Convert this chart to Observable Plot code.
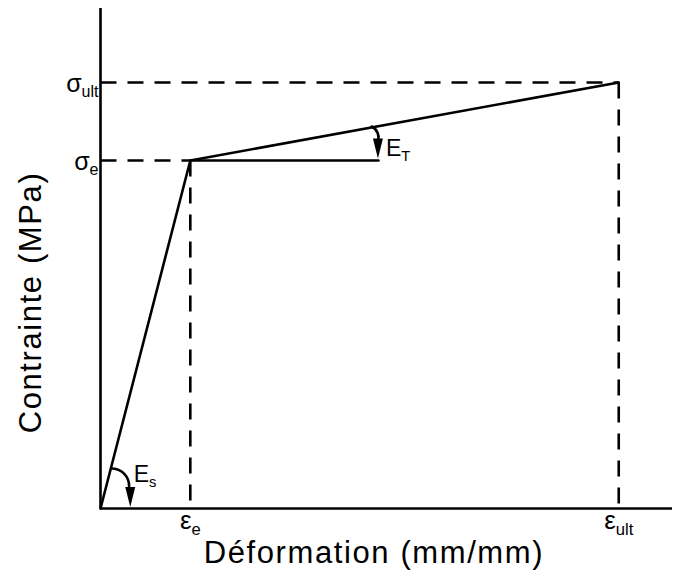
<!DOCTYPE html>
<html><head><meta charset="utf-8">
<script src="https://cdn.jsdelivr.net/npm/d3@7"></script>
<script src="https://cdn.jsdelivr.net/npm/@observablehq/plot@0.6"></script>
<style>body{margin:0;background:#fff;} svg{display:block;background:#fff}</style>
</head><body><div id="chart"></div>
<script>
// Stress-strain bilinear curve (arbitrary units, 0..100)
const curveStrain = [0, 15.7, 90.6];
const curveStress = [0, 69.6, 85.2];
// tick labels
const strainTicks = [15.7, 90.6];
const strainTickLabels = ["ε_e", "ε_ult"];
const stressTicks = [69.6, 85.2];
const stressTickLabels = ["σ_e", "σ_ult"];
// horizontal reference segment for the tangent modulus
const tangentRefStrain = [15.7, 48.6];
const tangentRefStress = [69.6, 69.6];
// modulus annotation arcs: [x1, y1, x2, y2]
const arcEs = [2.1, 8.0, 5.0, 4.4];
const arcEt = [47.4, 76.4, 48.4, 73.2];
// arrow head tips
const headEs = [5.2, 0.3];
const headEt = [48.5, 70.0];
const modulusLabels = ["E_s", "E_T"];
const modulusLabelX = [5.8, 49.9];
const modulusLabelY = [5.4, 70.6];
// axis titles and their placement
const yTitle = "Contrainte (MPa)";
const xTitle = "Déformation (mm/mm)";
const yTitlePos = [-12.2, 41.2];
const xTitlePos = [47.8, -9.0];

const curve = curveStrain.map((x, i) => ({x, y: curveStress[i]}));
const ink = "#000";
const dash = "16,11";
const sw = 2.6;

const headShape = {
  draw(ctx, l, r) {
    ctx.moveTo(-r, 0);
    ctx.lineTo(0, -l);
    ctx.lineTo(r, 0);
    ctx.closePath();
  }
};

const chart = Plot.plot({
  width: 682,
  height: 576,
  marginLeft: 100,
  marginRight: 10,
  marginTop: 8,
  marginBottom: 68,
  style: {fontFamily: "'Liberation Sans', Arial, sans-serif", background: "#fff", overflow: "visible"},
  x: {domain: [0, 100], axis: null},
  y: {domain: [0, 100], axis: null},
  marks: [
    // dashed guides
    Plot.link(strainTicks, {x1: d => d, x2: d => d, y1: (d, i) => stressTicks[i], y2: 0,
      stroke: ink, strokeWidth: sw, strokeDasharray: dash}),
    Plot.link(stressTicks, {x1: 0, x2: (d, i) => strainTicks[i], y1: d => d, y2: d => d,
      stroke: ink, strokeWidth: sw, strokeDasharray: dash}),
    // axes
    Plot.ruleX([0], {y1: 0, y2: 100, stroke: ink, strokeWidth: sw}),
    Plot.ruleY([0], {x1: 0, x2: 100, stroke: ink, strokeWidth: sw}),
    // curve
    Plot.line(curve, {x: "x", y: "y", stroke: ink, strokeWidth: sw}),
    Plot.line(tangentRefStrain.map((x, i) => ({x, y: tangentRefStress[i]})), {x: "x", y: "y", stroke: ink, strokeWidth: sw}),
    // arcs
    Plot.arrow([arcEs, arcEt], {x1: d => d[0], y1: d => d[1], x2: d => d[2], y2: d => d[3],
      bend: 45, headLength: 0, stroke: ink, strokeWidth: sw}),
    Plot.vector([headEs, headEt], {x: d => d[0], y: d => d[1], length: 20, rotate: 180, anchor: "end",
      shape: headShape, r: 5, fill: ink, stroke: "none"}),
    // modulus labels
    Plot.text(modulusLabels, {x: (d, i) => modulusLabelX[i], y: (d, i) => modulusLabelY[i], text: d => d,
      textAnchor: "start", lineAnchor: "bottom", fontSize: 23, fill: ink}),
    // tick labels
    Plot.text(stressTickLabels, {x: 0, y: (d, i) => stressTicks[i], text: d => d, textAnchor: "end",
      lineAnchor: "middle", dx: -2, dy: 1, fontSize: 25, fill: ink}),
    Plot.text(strainTickLabels, {x: (d, i) => strainTicks[i], y: 0, text: d => d, textAnchor: "middle",
      lineAnchor: "top", dy: 2, fontSize: 26, fill: ink}),
    // axis titles
    Plot.text([yTitle], {x: yTitlePos[0], y: yTitlePos[1], text: d => d, rotate: -90, clip: false,
      fontSize: 31, fill: ink, lineAnchor: "middle", textAnchor: "middle"}),
    Plot.text([xTitle], {x: xTitlePos[0], y: xTitlePos[1], text: d => d, clip: false,
      fontSize: 31, fill: ink, lineAnchor: "middle", textAnchor: "middle"})
  ]
});

// letter spacing on titles to match reference width
d3.select(chart).selectAll("text").filter(function() {
  return this.textContent === xTitle || this.textContent === yTitle;
}).attr("letter-spacing", "1.6px");

// turn "X_sub" into subscript tspans
d3.select(chart).selectAll("text").each(function() {
  const t = this.textContent;
  if (!t.includes("_")) return;
  const [main, sub] = t.split("_");
  const el = d3.select(this);
  el.text(null);
  el.append("tspan").text(main);
  el.append("tspan").attr("dy", "0.34em").attr("font-size", "0.64em").text(sub);
});

document.getElementById("chart").append(chart);
</script>
</body></html>
